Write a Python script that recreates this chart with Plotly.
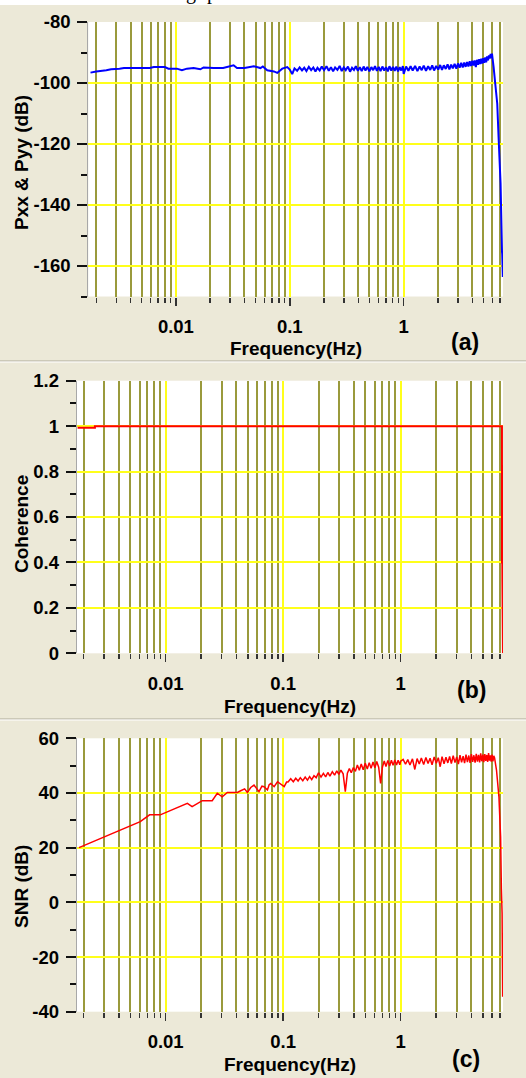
import plotly.graph_objects as go

W, H = 526, 1078

# ---------------- data ----------------
# Panel (a): Pxx & Pyy (dB)
freq_a_low = [0.00178, 0.0020, 0.00245, 0.0027, 0.0032, 0.0035, 0.0059, 0.0064, 0.0080, 0.0086,
              0.0102, 0.0113, 0.0125, 0.0143, 0.0164, 0.0175, 0.0214, 0.026, 0.0321, 0.0344,
              0.040, 0.0483, 0.0553, 0.058, 0.0634, 0.0725, 0.0776, 0.0859, 0.095, 0.100,
              0.105]
pxx_low = [-96.6, -96.2, -95.8, -95.5, -95.3, -95.1, -95.1, -94.75, -94.75, -95.3,
           -95.3, -95.8, -95.3, -95.1, -95.5, -94.9, -95.1, -95.1, -94.2, -95.1,
           -95.1, -94.5, -95.1, -94.6, -95.8, -96.2, -96.7, -95.3, -94.8, -95.6,
           -97.1]

# shared frequency bins of the noisy part (0.11 Hz .. 5.9 Hz)
freq_hi = [0.110, 0.116, 0.122, 0.128, 0.134, 0.140, 0.147, 0.154, 0.161, 0.168,
           0.175, 0.183, 0.191, 0.200, 0.210, 0.220, 0.230, 0.240, 0.250, 0.262,
           0.274, 0.286, 0.298, 0.310, 0.324, 0.338, 0.352, 0.366, 0.380, 0.396,
           0.412, 0.428, 0.445, 0.462, 0.480, 0.500, 0.520, 0.540, 0.560, 0.582,
           0.604, 0.626, 0.650, 0.675, 0.700, 0.725, 0.750, 0.778, 0.806, 0.834,
           0.862, 0.892, 0.922, 0.952, 0.984, 1.000,
           1.05, 1.10, 1.15, 1.20,
           1.26, 1.32, 1.38, 1.44, 1.50, 1.57, 1.64, 1.71, 1.78, 1.85,
           1.93, 2.01, 2.09, 2.17, 2.25, 2.34, 2.43, 2.52, 2.61, 2.70,
           2.80, 2.90, 3.00, 3.10, 3.20, 3.30, 3.40, 3.50, 3.60, 3.70,
           3.80, 3.90, 4.00, 4.10, 4.20, 4.30, 4.40, 4.50, 4.60, 4.70,
           4.80, 4.90, 5.00, 5.10, 5.20, 5.30, 5.40, 5.50, 5.60, 5.70,
           5.80, 5.90]
pxx_hi = [-95.2, -96.0, -94.9, -95.9, -95.0, -96.1, -94.7, -95.8, -94.9, -96.2,
          -95.0, -95.9, -94.6, -95.8, -94.5, -96.0, -94.8, -96.2, -94.9, -95.7,
          -94.4, -96.1, -94.9, -95.8, -94.6, -96.3, -95.0, -95.7, -94.5, -96.0,
          -94.8, -96.1, -94.6, -95.9, -94.7, -96.2, -94.8, -95.8, -94.5, -96.0,
          -94.7, -96.1, -94.6, -95.9, -94.8, -96.2, -94.5, -95.9, -94.7, -96.0,
          -94.6, -96.2, -94.8, -95.9, -94.5, -97.0,
          -94.6, -96.0, -94.5, -95.9,
          -94.4, -96.1, -94.6, -95.8, -94.3, -96.0, -94.5, -95.7, -94.2, -95.9,
          -94.4, -95.6, -94.1, -95.7, -94.2, -95.4, -93.9, -95.5, -94.0, -95.2,
          -93.7, -95.3, -93.6, -95.0, -93.4, -94.9, -93.3, -94.7, -93.1, -94.6,
          -92.9, -94.4, -92.7, -94.3, -92.6, -94.8, -92.4, -94.0, -92.2, -93.8,
          -92.0, -93.6, -91.9, -93.4, -91.6, -93.2, -91.3, -92.6, -91.0, -92.0,
          -90.5, -91.8]
freq_a_drop = [5.96, 6.16, 6.37, 6.63, 6.81, 7.09, 7.30, 7.33, 7.42]
pxx_drop = [-90.4, -94.8, -100.2, -106.8, -117.7, -133.0, -155.4, -156.0, -163.6]

# Panel (b): Coherence
freq_b = [0.00178, 0.0025, 0.0025, 7.28, 7.29, 7.33, 7.34, 7.42]
coh = [0.993, 0.993, 1.0, 1.0, 0.40, 0.40, 0.32, 0.0]

# Panel (c): SNR (dB)
freq_c_low = [0.00183, 0.00385, 0.00608, 0.0073, 0.0090, 0.0153, 0.0168, 0.0205, 0.0249, 0.0275,
              0.0303, 0.0335, 0.0408, 0.0435, 0.047, 0.0496, 0.053, 0.0565, 0.060, 0.0623,
              0.066, 0.0688, 0.0735, 0.076, 0.0785, 0.0838, 0.0895, 0.095, 0.102, 0.107]
snr_low = [20.0, 25.8, 29.5, 32.0, 32.0, 36.2, 35.0, 37.2, 37.2, 39.9,
           38.6, 40.2, 40.2, 40.8, 41.5, 40.2, 42.0, 42.9, 41.2, 40.5,
           42.5, 42.3, 41.1, 43.0, 43.5, 42.3, 44.1, 43.4, 42.3, 44.0]
snr_hi = [44.0, 45.2, 44.1, 45.4, 44.4, 45.6, 44.5, 45.8, 44.7, 46.0,
          44.9, 46.3, 45.6, 47.4, 45.8, 47.2, 45.9, 47.5, 46.2, 47.8,
          46.5, 48.1, 46.8, 48.4, 47.0, 40.5, 47.2, 48.9, 47.4, 49.3,
          47.9, 50.2, 48.3, 50.6, 48.5, 50.9, 48.8, 51.1, 49.0, 51.3,
          49.2, 51.5, 49.4, 43.5, 49.5, 51.7, 49.7, 51.9, 49.9, 52.0,
          50.1, 52.1, 50.2, 52.0, 50.3, 51.6,
          52.3, 50.5, 52.2, 50.2,
          52.5, 48.6, 52.6, 50.6, 52.8, 50.4, 53.0, 50.8, 52.7, 50.3,
          53.2, 50.9, 52.9, 49.6, 53.3, 50.7, 53.1, 51.0, 53.4, 50.8,
          53.6, 51.1, 53.2, 50.6, 53.8, 51.2, 53.5, 50.9, 54.0, 51.3,
          53.7, 51.0, 54.2, 51.4, 53.8, 51.1, 54.3, 51.5, 53.9, 51.2,
          54.5, 51.6, 54.0, 51.3, 54.2, 51.7, 53.9, 51.4, 54.6, 51.8,
          53.8, 51.5]
freq_c_drop = [6.0, 6.1, 6.2, 6.3, 6.54, 6.86, 7.0, 7.09, 7.2, 7.24, 7.30, 7.38]
snr_drop = [54.0, 51.6, 53.6, 52.8, 48.4, 38.6, 30.0, 24.0, 5.0, -1.6, -4.0, -34.5]

# ticks / labels
x_major = [0.01, 0.1, 1]
x_major_text = ["0.01", "0.1", "1"]
x_minor = [0.002, 0.003, 0.004, 0.005, 0.006, 0.007, 0.008, 0.009,
           0.02, 0.03, 0.04, 0.05, 0.06, 0.07, 0.08, 0.09,
           0.2, 0.3, 0.4, 0.5, 0.6, 0.7, 0.8, 0.9,
           2, 3, 4, 5, 6, 7]
ya_major = [-160, -140, -120, -100, -80]
ya_minor = [-170, -150, -130, -110, -90]
yb_major = [0, 0.2, 0.4, 0.6, 0.8, 1, 1.2]
yb_text = ["0", "0.2", "0.4", "0.6", "0.8", "1", "1.2"]
yb_minor = [0.1, 0.3, 0.5, 0.7, 0.9, 1.1]
yc_major = [-40, -20, 0, 20, 40, 60]
yc_minor = [-30, -10, 10, 30, 50]

# cut-off caption letters at the very top of the picture
caption_chars = ["g", "p"]
caption_x = [191, 212]
caption_y = [11, 11]

# ---------------- styling ----------------
BEIGE = "#ECE9D8"
YELLOW = "#FFFF1A"
OLIVE = "#9A9A3C"
FONT = "Liberation Sans, Arial, sans-serif"
tickfont = dict(family=FONT, size=18.5, color="black", weight="bold")


def xaxis_cfg(domain, rng, anchor):
    return dict(
        type="log", domain=domain, range=rng, anchor=anchor,
        tickmode="array", tickvals=x_major, ticktext=x_major_text,
        showgrid=True, gridcolor=YELLOW, gridwidth=2,
        ticks="outside", ticklen=8, tickwidth=1.5, tickcolor="#333333",
        ticklabelstandoff=5,
        minor=dict(tickmode="array", tickvals=x_minor, ticks="outside", ticklen=5,
                   tickwidth=1.5, tickcolor="#333333", showgrid=True,
                   gridcolor=OLIVE, gridwidth=2),
        showline=False, zeroline=False, tickfont=tickfont, fixedrange=True,
        automargin=False,
    )


def yaxis_cfg(domain, rng, anchor, major, text, minor):
    return dict(
        domain=domain, range=rng, anchor=anchor,
        tickmode="array", tickvals=major, ticktext=text,
        showgrid=True, gridcolor=YELLOW, gridwidth=2,
        ticks="outside", ticklen=10, tickwidth=2, tickcolor="#111111",
        ticklabelstandoff=3,
        minor=dict(tickmode="array", tickvals=minor, ticks="outside", ticklen=6,
                   tickwidth=2, tickcolor="#111111", showgrid=False),
        showline=True, linecolor="#A8A8A8", linewidth=1,
        zeroline=False, tickfont=tickfont, fixedrange=True, automargin=False,
    )


fig = go.Figure()

# panel (a)
fig.add_trace(go.Scatter(x=freq_a_low + freq_hi + freq_a_drop,
                         y=pxx_low + pxx_hi + pxx_drop,
                         mode="lines", line=dict(color="#0000FF", width=2),
                         xaxis="x", yaxis="y", showlegend=False, hoverinfo="skip"))
# panel (b)
fig.add_trace(go.Scatter(x=freq_b, y=coh, mode="lines",
                         line=dict(color="#FF0000", width=2),
                         xaxis="x2", yaxis="y2", showlegend=False, hoverinfo="skip"))
# panel (c)
fig.add_trace(go.Scatter(x=freq_c_low + freq_hi + freq_c_drop,
                         y=snr_low + snr_hi + snr_drop,
                         mode="lines", line=dict(color="#FF0000", width=1.5),
                         xaxis="x3", yaxis="y3", showlegend=False, hoverinfo="skip"))
# clipped caption fragment in the white strip at the top
fig.add_trace(go.Scatter(x=caption_x, y=caption_y, text=caption_chars, mode="text",
                         textposition="middle center", cliponaxis=True,
                         textfont=dict(family="Liberation Serif, Times New Roman, serif",
                                       size=20, color="black"),
                         xaxis="x4", yaxis="y4", showlegend=False, hoverinfo="skip"))


def py(px):
    return 1 - px / H


def px_(px):
    return px / W


layout = dict(
    width=W, height=H, margin=dict(l=0, r=0, t=0, b=0, pad=0),
    paper_bgcolor=BEIGE, plot_bgcolor="white", showlegend=False,
    xaxis=xaxis_cfg([px_(88.3), px_(503)], [-2.769, 0.872], "y"),
    yaxis=yaxis_cfg([py(296.5), py(22)], [-170, -80], "x",
                    ya_major, [str(v) for v in ya_major], ya_minor),
    xaxis2=xaxis_cfg([px_(76.7), px_(503)], [-2.757, 0.871], "y2"),
    yaxis2=yaxis_cfg([py(653.3), py(380.7)], [0, 1.2], "x2",
                     yb_major, yb_text, yb_minor),
    xaxis3=xaxis_cfg([px_(76.7), px_(503)], [-2.757, 0.871], "y3"),
    yaxis3=yaxis_cfg([py(1011.7), py(738.3)], [-40, 60], "x3",
                     yc_major, [str(v) for v in yc_major], yc_minor),
    xaxis4=dict(domain=[0, 1], range=[0, W], anchor="y4", visible=False, fixedrange=True),
    yaxis4=dict(domain=[py(5), 1], range=[0, 5], anchor="x4", visible=False, fixedrange=True),
)
fig.update_layout(**layout)

# decorations: panel separators
shapes = [
    dict(type="line", xref="paper", yref="paper", x0=0, x1=1, y0=py(361), y1=py(361),
         line=dict(color="#ACA899", width=1)),
    dict(type="line", xref="paper", yref="paper", x0=0, x1=1, y0=py(362), y1=py(362),
         line=dict(color="#FFFFFF", width=1)),
    dict(type="line", xref="paper", yref="paper", x0=0, x1=1, y0=py(719), y1=py(719),
         line=dict(color="#ACA899", width=1)),
    dict(type="line", xref="paper", yref="paper", x0=0, x1=1, y0=py(720), y1=py(720),
         line=dict(color="#FFFFFF", width=1)),
]
fig.update_layout(shapes=shapes)

ann = []
titlefont = dict(family=FONT, size=19, color="black", weight="bold")
for xc, yc in [(296, 349), (290, 706), (290, 1064)]:
    ann.append(dict(text="Frequency(Hz)", x=px_(xc), y=py(yc), xref="paper", yref="paper",
                    showarrow=False, xanchor="center", yanchor="middle", font=titlefont))
for t, xc, yc in [("(a)", 465, 342), ("(b)", 471, 690), ("(c)", 466, 1059)]:
    ann.append(dict(text=t, x=px_(xc), y=py(yc), xref="paper", yref="paper",
                    showarrow=False, xanchor="center", yanchor="middle",
                    font=dict(family=FONT, size=23, color="black", weight="bold")))
for t, xc, yc in [("Pxx & Pyy (dB)", 21, 163), ("Coherence", 21, 524), ("SNR (dB)", 21, 887)]:
    ann.append(dict(text=t, x=px_(xc), y=py(yc), xref="paper", yref="paper",
                    showarrow=False, xanchor="center", yanchor="middle", textangle=-90,
                    font=titlefont))
fig.update_layout(annotations=ann)

fig.write_html("out.html",
               config={"displayModeBar": False, "staticPlot": True},
               post_script="document.body.style.margin='0';document.body.style.padding='0';"
                           "document.body.style.overflow='hidden';")
